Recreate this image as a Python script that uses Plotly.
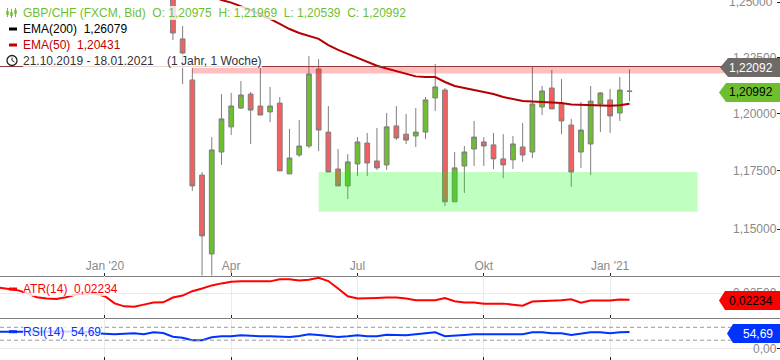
import plotly.graph_objects as go
import pandas as pd
import math

# ---------- data ----------
first_candle = "2020-02-24"
opens = [1.2540,1.2334,1.2149,1.1731,1.1395,1.1831,1.1941,1.2024,1.2086,1.2033,1.2007,1.2046,1.1736,1.1818,1.1857,1.2198,
         1.1918,1.1757,1.1684,1.1779,1.1870,1.1792,1.1775,1.1945,1.1909,1.1901,1.1918,1.2069,1.2104,1.1616,1.1770,1.1844,
         1.1875,1.1862,1.1801,1.1797,1.1853,1.1831,1.2029,1.2113,1.2042,1.1949,1.1831,1.1866,1.2042,1.2060,1.2002,1.20975]
highs = [1.2560,1.2393,1.2203,1.1744,1.1896,1.2086,1.2091,1.2144,1.2095,1.2203,1.2118,1.2073,1.1932,1.1971,1.2257,1.2243,
         1.2033,1.1844,1.1822,1.1896,1.1914,1.1936,1.2002,1.2033,1.1998,1.2024,1.2073,1.2221,1.2113,1.1831,1.1857,1.1967,
         1.1896,1.1914,1.1909,1.1901,1.1958,1.2207,1.2122,1.2194,1.2153,1.1976,1.2051,1.2122,1.2095,1.2109,1.2162,1.21969]
lows = [1.2329,1.2131,1.1663,1.1287,1.1287,1.1775,1.1905,1.2020,1.1866,1.1993,1.1962,1.1749,1.1736,1.1809,1.1848,1.1835,
        1.1744,1.1684,1.1628,1.1727,1.1727,1.1753,1.1753,1.1883,1.1866,1.1853,1.1887,1.2011,1.1598,1.1616,1.1654,1.1770,
        1.1770,1.1757,1.1718,1.1757,1.1788,1.1805,1.1993,1.2020,1.1909,1.1680,1.1762,1.1731,1.1918,1.1914,1.1967,1.20539]
closes = [1.2361,1.2270,1.1684,1.1471,1.1840,1.1976,1.2033,1.2082,1.2015,1.1993,1.2033,1.1749,1.1805,1.1857,1.2176,1.1927,
          1.1744,1.1684,1.1788,1.1875,1.1783,1.1762,1.1941,1.1892,1.1883,1.1918,1.2060,1.2118,1.1616,1.1762,1.1831,1.1896,
          1.1857,1.1801,1.1775,1.1866,1.1818,1.2042,1.2100,1.2020,1.1967,1.1744,1.1927,1.2055,1.2091,1.1989,1.2104,1.20992]
ema50 = [1.2604,1.2586,1.2567,1.2549,1.2530,1.2512,1.2500,1.2484,1.2466,1.2443,1.2425,1.2402,1.2379,1.2361,1.2347,1.2334,
         1.2306,1.2284,1.2266,1.2248,1.2230,1.2213,1.2200,1.2189,1.2176,1.2165,1.2162,1.2162,1.2140,1.2122,1.2113,1.2104,
         1.2095,1.2086,1.2073,1.2064,1.2055,1.2053,1.2051,1.2051,1.2046,1.2040,1.2038,1.2035,1.2035,1.2034,1.2036,1.20431]
first_week = "2019-10-21"
atr14 = [.02733,.02692,.02623,.02500,.02336,.02283,.02267,.02336,.02447,.02500,.02488,.02377,.02091,.01968,.01956,.02038,
         .02120,.02132,.02324,.02406,.02582,.02692,.02815,.02897,.02962,.02979,.02979,.02979,.02979,.03060,.03060,.03019,
         .03044,.03126,.02991,.02692,.02377,.02283,.02283,.02308,.02324,.02324,.02283,.02214,.02214,.02214,.02308,.02173,
         .02120,.02120,.02079,.02079,.02079,.02038,.01997,.02161,.02173,.02173,.02214,.02255,.02120,.02201,.02201,.02201,
         .02242,.02234]
rsi14 = [55,55,55,54,54,55,57,56,55,54,50,47.7,46.7,48.7,50,46.7,53.3,51,38.7,35.3,26.7,26.7,36.7,40,40,43.3,41,40,40,37.7,
         37.7,41,46.7,44.3,41,37.7,40,43.3,40,40,45.3,43.3,43.3,46.7,50,53.3,40,43.3,44.3,46.7,46.7,44.3,44.3,46.7,46.7,53.3,
         53.3,50,50,44.3,47.7,53.3,53.3,50,53.3,54.69]
quarter_dates = ["2020-01-06","2020-04-06","2020-07-06","2020-10-05","2021-01-04"]
quarter_labels = ["Jan '20","Apr","Jul","Okt","Jan '21"]
price_ticks = [1.15,1.175,1.20,1.225,1.25]
resistance_top, resistance_low = 1.22092, 1.2178
support_top, support_low = 1.1744, 1.1573
support_start, support_end = "2020-06-08", "2021-03-08"
resistance_start, resistance_end = "2020-03-09", "2021-03-27"
rsi_levels = [70, 27]

assert len(opens)==len(highs)==len(lows)==len(closes)==len(ema50)
assert len(atr14)==len(rsi14)==66

W, H = 780, 360
candle_dates = pd.date_range(first_candle, periods=len(opens), freq="7D")
week_dates = pd.date_range(first_week, periods=len(atr14), freq="7D")
GREEN, RED_C, EDGE, GREY_T = "#6EBF30", "#F45F5F", "#7F7F7F", "#8A8A8A"
FONT = "Liberation Sans"
px_x = lambda x: x / W
px_y = lambda y: 1 - y / H

fig = go.Figure()
fig.add_trace(go.Candlestick(
    x=candle_dates, open=opens, high=highs, low=lows, close=closes,
    increasing=dict(fillcolor=GREEN, line=dict(color=EDGE, width=1)),
    decreasing=dict(fillcolor=RED_C, line=dict(color=EDGE, width=1)),
    whiskerwidth=0, xaxis="x", yaxis="y", showlegend=False))
fig.add_trace(go.Scatter(x=candle_dates, y=ema50, mode="lines", line=dict(color="#B40000", width=2),
                         xaxis="x", yaxis="y", showlegend=False))
fig.add_trace(go.Scatter(x=week_dates, y=atr14, mode="lines", line=dict(color="#FF0000", width=2),
                         xaxis="x2", yaxis="y2", showlegend=False))
fig.add_trace(go.Scatter(x=week_dates, y=rsi14, mode="lines", line=dict(color="#0033FF", width=2),
                         xaxis="x3", yaxis="y3", showlegend=False))

shapes = []
# zones
shapes.append(dict(type="rect", xref="x", yref="y", x0=support_start, x1=support_end, y0=support_low, y1=support_top,
                   fillcolor="rgba(0,255,0,0.25)", line_width=0, layer="above"))
shapes.append(dict(type="rect", xref="x", yref="y", x0=resistance_start, x1=resistance_end, y0=resistance_low, y1=resistance_top,
                   fillcolor="rgba(255,0,0,0.25)", line_width=0, layer="above"))
shapes.append(dict(type="line", xref="paper", yref="y", x0=0, x1=px_x(722), y0=resistance_top, y1=resistance_top,
                   line=dict(color="#8E3A3A", width=1), layer="above"))
for lv in rsi_levels:
    shapes.append(dict(type="line", xref="paper", yref="y3", x0=0, x1=1, y0=lv, y1=lv,
                       line=dict(color="#999999", width=1, dash="4px,3px"), layer="above"))

def tag(x_tip, x_body, y0, y1, color):
    ym = (y0 + y1) / 2
    pts = [(x_tip, ym), (x_body, y0), (W, y0), (W, y1), (x_body, y1)]
    d = "M " + " L ".join(f"{px_x(a):.5f},{px_y(b):.5f}" for a, b in pts) + " Z"
    shapes.append(dict(type="path", xref="paper", yref="paper", path=d, fillcolor=color, line_width=0, layer="above"))

tag(720, 728, 58, 77, "#6E6A67")
tag(719, 726, 83, 102, GREEN)
tag(719, 725, 291, 310, "#FF0000")
tag(727, 733, 324, 343, "#0033FF")

def dash(y, color):
    shapes.append(dict(type="rect", xref="paper", yref="paper", x0=px_x(9), x1=px_x(17), y0=px_y(y-1.5), y1=px_y(y+1.5),
                       fillcolor=color, line_width=0, layer="above"))

ann = []
def label(x, y, text, color, bg="rgba(255,255,255,0.8)", anchor="left"):
    ann.append(dict(xref="paper", yref="paper", x=px_x(x), y=px_y(y), text=text, showarrow=False,
                    xanchor=anchor, yanchor="middle", font=dict(family=FONT, size=12, color=color),
                    bgcolor=bg, borderpad=0, borderwidth=0))

sp = "\u00a0\u00a0"
label(23, 13, f"GBP/CHF (FXCM, Bid){sp}O: 1,20975{sp}H: 1,21969{sp}L: 1,20539{sp}C: 1,20992", GREEN)
label(23, 29, f"EMA(200){sp}1,26079", "#000000")
label(23, 45, f"EMA(50){sp}1,20431", "#C00000")
label(23, 61, f"21.10.2019 - 18.01.2021{sp}{sp}(1 Jahr, 1 Woche)", "#333333")
label(23, 289, f"ATR(14){sp}0,02234", "#FF0000")
label(23, 331.5, f"RSI(14){sp}54,69", "#0033FF")
label(773, 2.5, "1,25000", GREY_T, "rgba(0,0,0,0)", "right")
label(773, 67.5, "1,22092", "#FFFFFF", "rgba(0,0,0,0)", "right")
label(773, 92.5, "1,20992", "#000000", "rgba(0,0,0,0)", "right")
label(773, 300.5, "0,02234", "#000000", "rgba(0,0,0,0)", "right")
label(773, 333.5, "54,69", "#FFFFFF", "rgba(0,0,0,0)", "right")

dash(29, "#000000"); dash(45, "#C00000"); dash(289, "#FF0000"); dash(331.7, "#0033FF")

# candlestick icon
for xc, y0, y1, b0, b1 in [(7.5, 8, 17, 11, 15), (11.5, 9, 18, 12, 16), (15.5, 8, 17, 10, 14)]:
    shapes.append(dict(type="line", xref="paper", yref="paper", x0=px_x(xc), x1=px_x(xc), y0=px_y(y0), y1=px_y(y1),
                       line=dict(color=GREEN, width=1), layer="above"))
    shapes.append(dict(type="rect", xref="paper", yref="paper", x0=px_x(xc-1.2), x1=px_x(xc+1.2), y0=px_y(b0), y1=px_y(b1),
                       fillcolor=GREEN, line_width=0, layer="above"))
# clock icon
shapes.append(dict(type="circle", xref="paper", yref="paper", x0=px_x(7), x1=px_x(17), y0=px_y(55.5), y1=px_y(65.5),
                   line=dict(color="#222222", width=1.3), fillcolor="rgba(0,0,0,0)", layer="above"))
shapes.append(dict(type="path", xref="paper", yref="paper",
                   path=f"M {px_x(12):.5f},{px_y(57.5):.5f} L {px_x(12):.5f},{px_y(60.5):.5f} L {px_x(14.5):.5f},{px_y(62):.5f}",
                   line=dict(color="#222222", width=1), layer="above"))

x_common = dict(type="date", range=["2019-10-22 10:00", "2021-05-06 10:00"], tickmode="array",
                tickvals=quarter_dates, ticktext=quarter_labels, ticks="inside", ticklen=3, tickcolor="#222222",
                tickfont=dict(family=FONT, size=12, color=GREY_T), zeroline=False)
y_common = dict(side="right", ticks="inside", ticklen=3, tickcolor="#222222", ticklabelposition="inside",
                tickfont=dict(family=FONT, size=12, color=GREY_T), zeroline=False, fixedrange=True,
                showline=False, tickmode="array")

fig.update_layout(
    width=W, height=H, autosize=False, margin=dict(l=0, r=0, t=0, b=0), paper_bgcolor="white", plot_bgcolor="white",
    separators=",.", showlegend=False, shapes=shapes, annotations=ann, boxmode="overlay", boxgap=0.3,
    xaxis=dict(x_common, anchor="y", rangeslider=dict(visible=False), showgrid=False, showline=True, linecolor="#808080",
               linewidth=1, ticklabelposition="inside"),
    xaxis2=dict(x_common, anchor="y2", matches="x", showgrid=True, gridcolor="#EAEAEA", showticklabels=False, showline=True,
                linecolor="#808080", linewidth=1),
    xaxis3=dict(x_common, anchor="y3", matches="x", showgrid=True, gridcolor="#EAEAEA", showticklabels=False, showline=False),
    yaxis=dict(y_common, type="log", anchor="x", domain=[1-275.5/H, 1],
               range=[math.log10(1.1305), math.log10(1.2512)], tickvals=price_ticks, tickformat=".5f", showgrid=False),
    yaxis2=dict(y_common, anchor="x2", domain=[1-317.5/H, 1-276/H], range=[0.01518, 0.03196],
                tickvals=[0.025], tickformat=".5f", showgrid=True, gridcolor="#EAEAEA"),
    yaxis3=dict(y_common, anchor="x3", domain=[0, 1-318/H], range=[-39, 101],
                tickvals=[0], tickformat=".2f", showgrid=True, gridcolor="#EAEAEA"),
)

fig.write_html("out.html", config=dict(displayModeBar=False),
               post_script="document.body.style.margin='0';document.body.style.overflow='hidden';")
